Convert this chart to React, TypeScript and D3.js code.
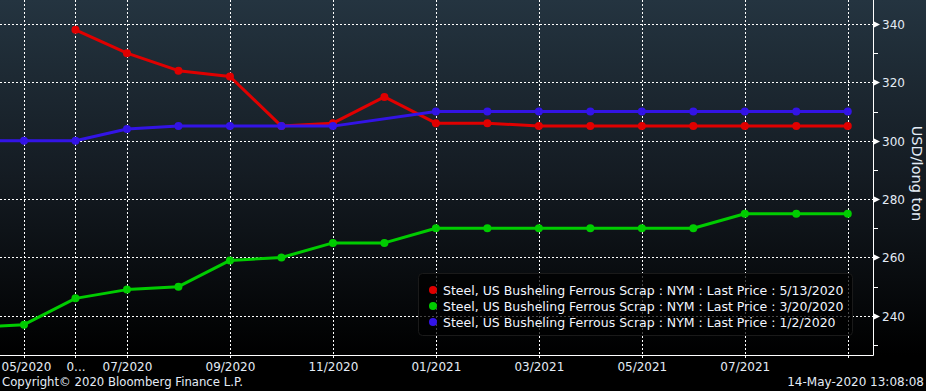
import * as d3 from 'd3'
import React from 'react'

// contract months, April 2020 .. September 2021
const months = [
    '04/2020', '05/2020', '06/2020', '07/2020', '08/2020', '09/2020', '10/2020', '11/2020', '12/2020',
    '01/2021', '02/2021', '03/2021', '04/2021', '05/2021', '06/2021', '07/2021', '08/2021', '09/2021',
]

const red513 = [null, null, 338, 330, 324, 322, 305, 306, 315, 306, 306, 305, 305, 305, 305, 305, 305, 305]
const green320 = [236, 237, 246, 249, 250, 259, 260, 265, 265, 270, 270, 270, 270, 270, 270, 275, 275, 275]
const blue102 = [300, 300, 300, 304, 305, 305, 305, 305, null, 310, 310, 310, 310, 310, 310, 310, 310, 310]

const xTickIdx = [1, 2, 3, 5, 7, 9, 11, 13, 15, 17]
const xTickLabels = ['05/2020', '0...', '07/2020', '09/2020', '11/2020', '01/2021', '03/2021', '05/2021', '07/2021', '']
const yMajor = [240, 260, 280, 300, 320, 340]
const yMinor = [230, 250, 270, 290, 310, 330]

const legendLabels = [
    'Steel, US Busheling Ferrous Scrap : NYM : Last Price : 5/13/2020',
    'Steel, US Busheling Ferrous Scrap : NYM : Last Price : 3/20/2020',
    'Steel, US Busheling Ferrous Scrap : NYM : Last Price : 1/2/2020',
]

const W = 926
const H = 391
const plot = { left: 0, right: 873, top: 0, bottom: 355 }
const font = "'DejaVu Sans', sans-serif"
const txtColor = '#e4ecf6'

export default function App() {
    const svgRef = React.useRef<SVGSVGElement | null>(null)

    React.useEffect(() => {
        document.body.style.margin = '0'
        document.body.style.background = '#000'
        const svg = d3.select(svgRef.current)
        svg.selectAll('*').remove()

        // months are evenly spaced, index into `months`
        const x = d3.scaleLinear().domain([0.534, 17.49]).range([plot.left, plot.right])
        const y = d3.scaleLinear().domain([226.6, 348.2]).range([plot.bottom, plot.top])

        // background gradient
        const defs = svg.append('defs')
        const grad = defs
            .append('linearGradient')
            .attr('id', 'bg')
            .attr('x1', 0)
            .attr('y1', 0)
            .attr('x2', 0)
            .attr('y2', 1)
        grad.append('stop').attr('offset', '0%').attr('stop-color', '#243440')
        grad.append('stop').attr('offset', '50%').attr('stop-color', '#141b22')
        grad.append('stop').attr('offset', '100%').attr('stop-color', '#000000')
        defs.append('clipPath')
            .attr('id', 'clip')
            .append('rect')
            .attr('x', plot.left)
            .attr('y', plot.top)
            .attr('width', plot.right - plot.left)
            .attr('height', plot.bottom - plot.top)

        svg.append('rect').attr('width', W).attr('height', H).attr('fill', '#000')
        svg.append('rect').attr('width', W).attr('height', plot.bottom).attr('fill', 'url(#bg)')

        // gridlines
        const grid = svg.append('g').attr('stroke', '#ffffff').attr('stroke-width', 1).attr('stroke-dasharray', '2,2')
        yMajor.forEach((v) => {
            grid.append('line')
                .attr('x1', plot.left)
                .attr('x2', plot.right)
                .attr('y1', Math.round(y(v)) + 0.5)
                .attr('y2', Math.round(y(v)) + 0.5)
        })
        xTickIdx.forEach((i) => {
            grid.append('line')
                .attr('x1', Math.round(x(i)) + 0.5)
                .attr('x2', Math.round(x(i)) + 0.5)
                .attr('y1', plot.top)
                .attr('y2', plot.bottom + 4)
        })

        // series: green under red under blue
        const series = [
            { vals: green320, color: '#00cc00' },
            { vals: red513, color: '#e00000' },
            { vals: blue102, color: '#3314e6' },
        ]
        const line = d3
            .line<[number, number]>()
            .x((d) => x(d[0]))
            .y((d) => y(d[1]))
        const gSeries = svg.append('g').attr('clip-path', 'url(#clip)')
        series.forEach((s) => {
            const pts = s.vals
                .map((v, i) => [i, v] as [number, number | null])
                .filter((d) => d[1] !== null) as [number, number][]
            gSeries.append('path')
                .datum(pts)
                .attr('d', line)
                .attr('fill', 'none')
                .attr('stroke', s.color)
                .attr('stroke-width', 3)
                .attr('stroke-linejoin', 'round')
            gSeries.selectAll(null)
                .data(pts)
                .enter()
                .append('circle')
                .attr('cx', (d) => x(d[0]))
                .attr('cy', (d) => y(d[1]))
                .attr('r', 4)
                .attr('fill', s.color)
        })

        // axes lines
        svg.append('line')
            .attr('x1', 0)
            .attr('x2', plot.right + 0.5)
            .attr('y1', plot.bottom + 0.5)
            .attr('y2', plot.bottom + 0.5)
            .attr('stroke', '#fff')
        svg.append('line')
            .attr('x1', plot.right + 0.5)
            .attr('x2', plot.right + 0.5)
            .attr('y1', 0)
            .attr('y2', plot.bottom + 0.5)
            .attr('stroke', '#fff')

        // y ticks (right)
        yMinor.forEach((v) => {
            svg.append('line')
                .attr('x1', plot.right)
                .attr('x2', plot.right + 5)
                .attr('y1', Math.round(y(v)) + 0.5)
                .attr('y2', Math.round(y(v)) + 0.5)
                .attr('stroke', '#fff')
        })
        yMajor.forEach((v) => {
            const yy = Math.round(y(v)) + 0.5
            svg.append('path')
                .attr('d', `M${plot.right + 1},${yy - 3}L${plot.right + 7},${yy}L${plot.right + 1},${yy + 3}Z`)
                .attr('fill', '#fff')
            svg.append('text')
                .attr('x', plot.right + 9)
                .attr('y', yy)
                .attr('dy', '0.35em')
                .attr('fill', txtColor)
                .attr('font-family', font)
                .attr('font-size', 12)
                .text(v)
        })

        // x tick labels
        xTickIdx.forEach((i, k) => {
            svg.append('text')
                .attr('x', x(i) + 0.5)
                .attr('y', 371)
                .attr('text-anchor', k === 0 ? 'start' : 'middle')
                .attr('dx', k === 0 ? -x(i) + 1 : 0)
                .attr('fill', txtColor)
                .attr('font-family', font)
                .attr('font-size', 12)
                .text(xTickLabels[k])
        })

        // axis title
        svg.append('text')
            .attr('transform', `translate(912,${plot.bottom / 2 - 4}) rotate(90)`)
            .attr('text-anchor', 'middle')
            .attr('fill', txtColor)
            .attr('font-family', font)
            .attr('font-size', 14.5)
            .text('USD/long ton')

        // legend
        const lg = svg.append('g')
        lg.append('rect')
            .attr('x', 418.5)
            .attr('y', 273.5)
            .attr('width', 434)
            .attr('height', 62)
            .attr('rx', 4)
            .attr('fill', '#000')
            .attr('fill-opacity', 0.72)
            .attr('stroke', '#1a1a1a')
        ;['#e00000', '#00cc00', '#3314e6'].forEach((c, i) => {
            const yy = 290 + i * 16
            lg.append('circle').attr('cx', 433).attr('cy', yy).attr('r', 4).attr('fill', c)
            lg.append('text')
                .attr('x', 443)
                .attr('y', yy)
                .attr('dy', '0.36em')
                .attr('fill', '#f2f6ff')
                .attr('font-family', font)
                .attr('font-size', 12.5)
                .text(legendLabels[i])
        })

        // footer
        svg.append('text')
            .attr('x', 2)
            .attr('y', 386)
            .attr('fill', txtColor)
            .attr('font-family', font)
            .attr('font-size', 11.7)
            .text('Copyright© 2020 Bloomberg Finance L.P.')
        svg.append('text')
            .attr('x', 924)
            .attr('y', 386)
            .attr('text-anchor', 'end')
            .attr('fill', txtColor)
            .attr('font-family', font)
            .attr('font-size', 12)
            .text('14-May-2020 13:08:08')
    }, [])

    return <svg ref={svgRef} width={W} height={H} style={{ display: 'block' }} />
}
